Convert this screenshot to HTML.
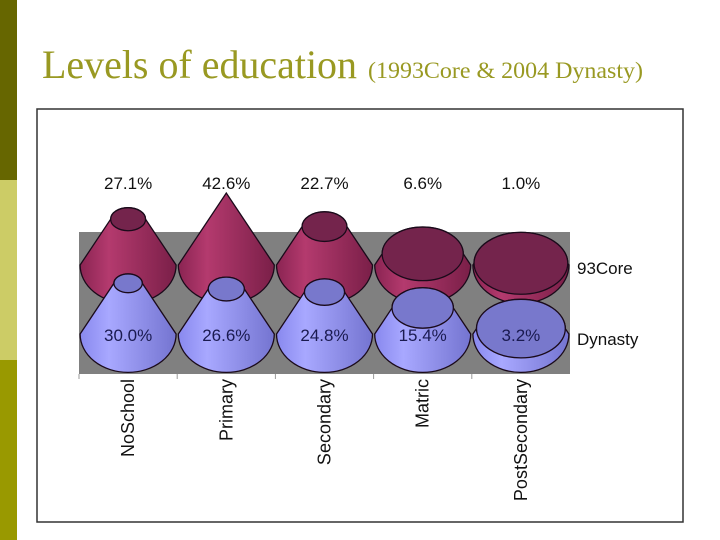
<!DOCTYPE html>
<html><head><meta charset="utf-8"><style>
body{margin:0;width:720px;height:540px;background:#fff;overflow:hidden;position:relative}
</style></head><body>
<div style="position:absolute;left:0;top:0;width:17px;height:180px;background:#666600"></div>
<div style="position:absolute;left:0;top:180px;width:17px;height:180px;background:#cccc66"></div>
<div style="position:absolute;left:0;top:360px;width:17px;height:180px;background:#999900"></div>
<svg id="c" width="720" height="540" style="position:absolute;left:0;top:0" font-family="Liberation Sans, Arial, sans-serif">
<defs>
<linearGradient id="gr" x1="0" x2="1" y1="0" y2="0"><stop offset="0" stop-color="#8a2452"/><stop offset="0.3" stop-color="#b43a6e"/><stop offset="1" stop-color="#7a1f48"/></linearGradient>
<linearGradient id="gb" x1="0" x2="1" y1="0" y2="0"><stop offset="0" stop-color="#8888ee"/><stop offset="0.3" stop-color="#a8a8ff"/><stop offset="1" stop-color="#7474d0"/></linearGradient>
</defs>
<text x="42" y="78" font-family="Liberation Serif, serif" font-size="40" fill="#999922" textLength="315" lengthAdjust="spacingAndGlyphs">Levels of education</text>
<text x="368" y="78" font-family="Liberation Serif, serif" font-size="23" fill="#999922" textLength="275" lengthAdjust="spacingAndGlyphs">(1993Core &amp; 2004 Dynasty)</text>
<rect x="37" y="109" width="646" height="413" fill="#fff" stroke="#333" stroke-width="1.5"/>
<rect x="79" y="232" width="491" height="142" fill="#808080"/>
<g id="marks"></g>
</svg>
<script>
const categories=["NoSchool","Primary","Secondary","Matric","PostSecondary"];
const seriesNames=["93Core","Dynasty"];
const core93=[27.1,42.6,22.7,6.6,1.0];
const dynasty=[30.0,26.6,24.8,15.4,3.2];
const maxVal=42.6;
const svg=document.getElementById('c'),g=document.getElementById('marks');
const NS='http://www.w3.org/2000/svg';
const x0=79,colW=98.2,baseRx=48,ratio=0.66,baseRatio=0.8,H=72;
const xc=i=>x0+colW*(i+0.5);
const hScale=v=>H*v/maxVal;
function mk(t,a){const e=document.createElementNS(NS,t);for(const k in a)e.setAttribute(k,a[k]);g.appendChild(e);return e;}
function cone(i,v,yb,fill,topFill,name){
  const cx=xc(i),rb=baseRx,rt=rb*Math.max(0,1-v/maxVal),yt=yb-hScale(v),ryb=rb*baseRatio,ryt=rt*ratio;
  const d=`M${cx-rb},${yb} L${cx-rt},${yt} A${rt||0.01},${ryt||0.01} 0 0 1 ${cx+rt},${yt} L${cx+rb},${yb} A${rb},${ryb} 0 0 1 ${cx-rb},${yb} Z`;
  const p=mk('path',{d:d,fill:fill,stroke:'#1a0a1a','stroke-width':1.3});
  
  
  if(rt>0.5){const t=mk('ellipse',{cx:cx,cy:yt,rx:rt,ry:ryt,fill:topFill,stroke:'#1a0a1a','stroke-width':1.3});
  
  }
}
categories.forEach((c,i)=>cone(i,core93[i],265,'url(#gr)','#74244c','cone-93core-'+c.toLowerCase()));
categories.forEach((c,i)=>cone(i,dynasty[i],334,'url(#gb)','#7878cc','cone-dynasty-'+c.toLowerCase()));
function txt(s,x,y,name,extra){const t=mk('text',Object.assign({x:x,y:y,'font-size':17,fill:'#111'},extra||{}));t.textContent=s;
  
  return t;}
categories.forEach((c,i)=>{
  txt(core93[i].toFixed(1)+'%',xc(i),189,'value-label-93core-'+c.toLowerCase(),{'text-anchor':'middle'});
  txt(dynasty[i].toFixed(1)+'%',xc(i),341,'value-label-dynasty-'+c.toLowerCase(),{'text-anchor':'middle',fill:'#1a1a50'});
  const t=txt(c,0,0,'category-label-'+c.toLowerCase(),{'text-anchor':'end','font-size':18,transform:`translate(${xc(i)+6},379) rotate(-90)`});
  const tk=mk('line',{x1:x0+colW*i,x2:x0+colW*i,y1:374,y2:379,stroke:'#999'});
  
  
});
txt('93Core',577,274,'series-label-93core');
txt('Dynasty',577,345,'series-label-dynasty');
</script>
</body></html>
